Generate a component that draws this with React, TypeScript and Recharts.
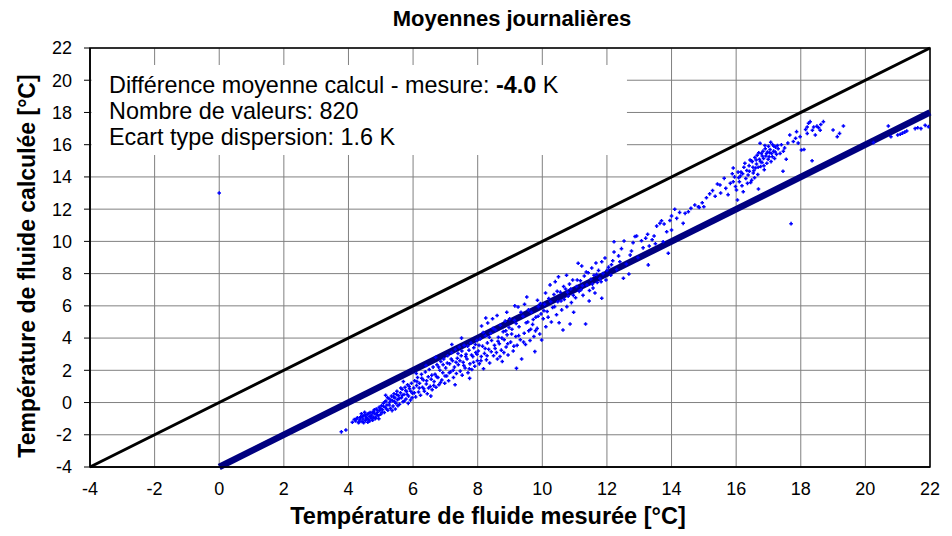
import { ScatterChart, Scatter, XAxis, YAxis, CartesianGrid, ReferenceLine, ReferenceArea } from 'recharts'

// tick values
const xTicks = [-4, -2, 0, 2, 4, 6, 8, 10, 12, 14, 16, 18, 20, 22]
const yTicks = [-4, -2, 0, 2, 4, 6, 8, 10, 12, 14, 16, 18, 20, 22]
const yMinorTicks = Array.from({ length: 66 }, (_, i) => Math.round((-4 + i * 0.4) * 10) / 10)

const band1: [number, number][] = [
  [3.78, -1.82], [3.92, -1.7], [4.12, -1.22], [4.18, -1.05], [4.22, -1.15], [4.28, -0.95], [4.31, -1.25],
  [4.35, -1.08], [4.38, -0.88], [4.42, -1.18], [4.45, -1.02], [4.48, -0.8], [4.52, -1.12], [4.55, -0.95],
  [4.58, -0.72], [4.61, -1.05], [4.64, -0.86], [4.67, -0.62], [4.7, -0.98], [4.72, -0.78], [4.75, -1.1],
  [4.78, -0.55], [4.81, -0.7], [4.84, -0.92], [4.86, -0.4], [4.89, -0.62], [4.92, -0.82], [4.95, -0.3],
  [4.97, -0.5], [5.0, -0.72], [4.4, -0.7], [4.6, -1.22], [4.83, -1.0], [4.5, -0.6],
  [5.02, -0.2], [5.05, -0.45], [5.08, -0.05], [5.11, -0.62], [5.14, -0.3], [5.16, 0.1], [5.19, -0.15],
  [5.22, -0.48], [5.25, 0.25], [5.27, 0.0], [5.3, -0.35], [5.33, 0.4], [5.36, 0.12], [5.38, -0.22],
  [5.41, 0.55], [5.44, 0.28], [5.47, -0.05], [5.5, 0.7], [5.52, 0.18], [5.55, 0.42], [5.58, -0.1],
  [5.61, 0.6], [5.64, 0.3], [5.66, 0.82], [5.69, 0.05], [5.72, 0.5], [5.75, 0.95], [5.78, 0.22],
  [5.8, 0.68], [5.83, 1.1], [5.86, 0.4], [5.89, 0.85], [5.92, 0.15], [5.95, 1.2], [5.98, 0.58],
  [5.15, 0.45], [5.45, -0.4], [5.7, 1.3], [5.85, -0.05],
  [4.25, -1.0], [4.33, -1.2], [4.37, -0.95], [4.44, -0.85], [4.47, -1.25], [4.53, -0.78], [4.57, -1.0],
  [4.63, -0.68], [4.66, -1.15], [4.69, -0.85], [4.74, -0.6], [4.77, -0.92], [4.8, -0.45], [4.88, -0.75],
  [4.91, -0.5], [4.94, -1.0], [4.99, -0.35], [5.04, -0.6], [5.09, -0.25], [5.13, 0.05], [5.18, -0.4],
  [5.21, 0.3], [5.26, -0.15], [5.31, 0.15], [5.35, -0.5], [5.4, 0.35], [5.43, 0.05], [5.49, 0.5],
  [5.53, -0.2], [5.57, 0.25], [5.62, 0.9], [5.67, 0.45], [5.73, 0.1], [5.77, 0.75], [5.82, 0.5],
  [5.88, 1.0], [5.93, 0.7], [5.97, 0.3],
]

const band2: [number, number][] = [
  [6.02, 0.9], [6.05, 1.35], [6.08, 0.35], [6.11, 1.05], [6.14, 1.55], [6.17, 0.65], [6.2, 1.2],
  [6.23, 0.45], [6.26, 1.75], [6.29, 0.95], [6.32, 1.4], [6.35, 0.7], [6.38, 1.9], [6.41, 1.15],
  [6.44, 0.55], [6.47, 1.6], [6.5, 2.05], [6.53, 1.0], [6.56, 1.45], [6.59, 0.8], [6.62, 2.2],
  [6.65, 1.3], [6.68, 1.75], [6.71, 0.95], [6.74, 2.35], [6.77, 1.55], [6.8, 1.1], [6.83, 2.0],
  [6.86, 2.55], [6.89, 1.4], [6.92, 1.85], [6.95, 2.7], [6.98, 1.2], [6.1, 1.8], [6.4, 2.3],
  [6.7, 2.8], [6.55, 0.4],
  [7.01, 2.15], [7.04, 1.65], [7.07, 2.9], [7.1, 1.35], [7.13, 2.4], [7.16, 1.9], [7.19, 3.1],
  [7.22, 2.6], [7.25, 1.55], [7.28, 2.2], [7.31, 3.3], [7.34, 1.8], [7.37, 2.75], [7.4, 2.35],
  [7.43, 3.45], [7.46, 1.95], [7.49, 2.9], [7.52, 1.7], [7.55, 2.5], [7.58, 3.55], [7.61, 2.15],
  [7.64, 3.0], [7.67, 2.7], [7.7, 1.85], [7.73, 3.25], [7.76, 2.4], [7.79, 3.7], [7.82, 2.05],
  [7.85, 2.85], [7.88, 3.4], [7.91, 2.25], [7.94, 3.1], [7.97, 3.85], [7.99, 2.6], [7.2, 3.6],
  [7.5, 4.0], [7.3, 1.1], [7.75, 1.5],
  [6.04, 0.6], [6.12, 1.3], [6.19, 0.9], [6.27, 1.5], [6.33, 0.85], [6.42, 1.35], [6.48, 0.9],
  [6.58, 1.7], [6.64, 1.05], [6.73, 1.6], [6.79, 2.2], [6.85, 1.25], [6.93, 2.35], [6.99, 1.65],
  [7.06, 2.45], [7.12, 1.85], [7.18, 2.7], [7.24, 2.0], [7.33, 2.5], [7.39, 3.05], [7.45, 2.6],
  [7.51, 3.2], [7.57, 2.3], [7.63, 2.85], [7.69, 3.5], [7.74, 2.1], [7.81, 2.95], [7.87, 2.5],
  [7.93, 3.6], [7.98, 3.0],
]

const band3: [number, number][] = [
  [8.02, 3.2], [8.05, 2.4], [8.08, 3.95], [8.11, 2.85], [8.12, 4.75], [8.15, 3.5], [8.18, 2.1],
  [8.21, 3.05], [8.24, 4.15], [8.27, 2.65], [8.3, 3.7], [8.31, 4.94], [8.34, 3.3], [8.37, 2.45],
  [8.4, 4.3], [8.43, 3.85], [8.46, 5.2], [8.49, 2.9], [8.52, 3.55], [8.55, 4.5], [8.58, 3.1],
  [8.61, 2.7], [8.64, 4.05], [8.67, 3.65], [8.7, 4.8], [8.73, 3.25], [8.76, 2.55], [8.79, 4.4],
  [8.82, 3.9], [8.85, 5.05], [8.88, 3.45], [8.91, 4.2], [8.94, 2.95], [8.97, 4.65], [8.25, 5.25],
  [8.6, 5.4], [8.9, 5.6],
  [9.02, 3.75], [9.06, 4.55], [9.1, 3.2], [9.14, 5.1], [9.18, 4.1], [9.2, 2.12], [9.22, 3.55],
  [9.25, 5.93], [9.28, 4.7], [9.32, 3.9], [9.36, 2.7], [9.4, 5.35], [9.44, 4.3], [9.48, 3.6],
  [9.52, 6.55], [9.55, 5.0], [9.58, 4.45], [9.62, 3.85], [9.66, 5.6], [9.7, 4.85], [9.74, 4.1],
  [9.77, 3.16], [9.8, 5.3], [9.84, 4.6], [9.88, 5.95], [9.92, 4.25], [9.96, 5.5], [9.98, 3.88],
  [9.15, 6.0], [9.45, 6.1], [9.85, 6.35],
  [8.04, 3.55], [8.1, 2.6], [8.17, 4.35], [8.23, 3.35], [8.29, 2.9], [8.36, 4.05], [8.42, 3.15],
  [8.48, 4.6], [8.54, 3.35], [8.63, 3.8], [8.69, 2.85], [8.75, 4.0], [8.81, 3.1], [8.87, 4.45],
  [8.93, 3.65], [8.99, 5.2], [9.05, 4.25], [9.12, 3.5], [9.19, 4.9], [9.27, 4.15], [9.34, 5.6],
  [9.42, 3.75], [9.5, 4.95], [9.57, 5.75], [9.64, 4.55], [9.72, 5.15], [9.79, 4.45], [9.87, 5.35],
  [9.94, 6.15],
]

const band4: [number, number][] = [
  [10.03, 5.2], [10.07, 6.1], [10.11, 4.7], [10.15, 5.65], [10.2, 6.45], [10.24, 7.3], [10.28, 5.0],
  [10.32, 5.9], [10.36, 6.7], [10.4, 7.5], [10.44, 5.45], [10.48, 6.25], [10.52, 4.95], [10.56, 6.85],
  [10.6, 5.75], [10.64, 4.5], [10.68, 6.4], [10.72, 7.05], [10.76, 5.95], [10.8, 6.6], [10.84, 7.35],
  [10.86, 4.87], [10.9, 6.2], [10.94, 7.6], [10.97, 5.6], [10.1, 6.8], [10.5, 7.8], [10.75, 7.9],
  [10.05, 5.7], [10.18, 5.3], [10.26, 6.25], [10.38, 5.95], [10.46, 6.9], [10.58, 6.3], [10.66, 7.2],
  [10.78, 6.85], [10.88, 7.05], [10.96, 6.65],
  [11.03, 6.5], [11.06, 7.2], [11.11, 8.64], [11.14, 6.9], [11.18, 7.55], [11.22, 8.47], [11.26, 6.65],
  [11.3, 7.85], [11.34, 4.87], [11.38, 7.3], [11.42, 8.05], [11.46, 6.95], [11.5, 7.65], [11.53, 8.35],
  [11.57, 7.1], [11.6, 7.9], [11.63, 6.8], [11.66, 8.66], [11.7, 7.45], [11.74, 8.2], [11.78, 7.7],
  [11.84, 8.74], [11.84, 6.47], [11.88, 8.0], [11.94, 8.97], [11.97, 7.6], [11.2, 7.0], [11.45, 6.3],
  [11.08, 7.6], [11.24, 7.25], [11.36, 8.1], [11.55, 7.35], [11.68, 7.95], [11.82, 7.5],
  [12.0, 8.2], [12.14, 8.55],
  [12.05, 8.4], [12.12, 7.9], [12.18, 8.8], [12.22, 9.98], [12.22, 9.34], [12.3, 8.25], [12.36, 9.1],
  [12.4, 8.74], [12.45, 9.55], [12.51, 7.71], [12.53, 10.02], [12.6, 8.6], [12.68, 7.98], [12.72, 9.15],
  [12.76, 9.4], [12.81, 9.92], [12.87, 10.3], [12.92, 10.33], [12.96, 9.0],
  [13.07, 10.04], [13.12, 9.6], [13.2, 10.2], [13.26, 10.44], [13.28, 8.54], [13.31, 9.71], [13.4, 10.1],
  [13.46, 10.33], [13.5, 9.85], [13.54, 10.95], [13.64, 11.12], [13.69, 11.28], [13.74, 9.98],
  [13.77, 11.08], [13.85, 10.6], [13.9, 9.26], [13.95, 11.3],
  [14.0, 10.7], [14.0, 11.58], [14.1, 11.99], [14.16, 11.43], [14.25, 11.8], [14.36, 11.12], [14.42, 11.74],
  [14.52, 11.84], [14.6, 12.05], [14.72, 12.26], [14.83, 12.15], [14.86, 12.11], [14.95, 12.4], [15.0, 12.15],
]

const band5: [number, number][] = [
  [15.08, 12.71], [15.18, 12.95], [15.27, 13.15], [15.35, 12.8], [15.42, 13.56], [15.5, 13.5], [15.52, 13.0],
  [15.63, 13.91], [15.68, 13.29], [15.75, 12.9], [15.82, 13.6], [15.88, 14.2], [15.91, 14.55], [15.91, 13.7],
  [15.95, 14.0], [15.98, 13.4],
  [16.01, 13.19], [16.04, 12.57], [16.06, 14.3], [16.1, 13.7], [16.13, 14.05], [16.15, 14.3], [16.18, 13.45],
  [16.22, 13.08], [16.24, 14.6], [16.27, 14.85], [16.3, 13.9], [16.33, 14.4], [16.37, 14.12], [16.4, 14.7],
  [16.43, 15.05], [16.45, 13.65], [16.48, 13.8], [16.5, 14.95], [16.53, 14.25], [16.55, 14.4], [16.58, 15.2],
  [16.6, 14.55], [16.63, 14.8], [16.65, 15.35], [16.67, 14.15], [16.69, 13.25], [16.72, 15.1], [16.74, 16.09],
  [16.76, 14.65], [16.78, 15.45], [16.8, 14.9], [16.83, 15.6], [16.85, 15.15], [16.87, 14.45], [16.9, 15.75],
  [16.92, 15.3], [16.95, 14.85], [16.97, 15.55], [17.0, 15.9], [17.02, 15.25], [17.05, 15.7], [17.08, 14.95],
  [17.1, 15.45], [17.13, 16.0], [17.16, 15.6], [17.19, 15.15], [17.22, 15.85], [17.25, 15.4], [17.28, 15.95],
  [16.08, 13.95], [16.2, 14.2], [16.35, 13.6], [16.41, 14.35], [16.47, 15.0], [16.52, 14.6], [16.57, 13.95],
  [16.62, 15.05], [16.68, 14.6], [16.7, 15.5], [16.75, 14.95], [16.81, 15.3], [16.86, 14.7], [16.89, 15.95],
  [16.94, 15.45], [16.99, 15.1], [17.04, 15.5], [17.07, 16.15], [17.12, 15.25], [17.17, 15.9], [17.21, 15.55],
  [17.3, 15.75], [17.4, 16.0], [17.5, 15.8],
  [17.36, 15.46], [17.45, 14.35], [17.46, 15.6], [17.55, 15.1], [17.6, 16.1], [17.66, 16.6], [17.77, 16.2],
  [17.84, 16.4], [17.87, 16.81], [17.92, 16.1], [17.98, 16.5], [18.02, 15.67], [18.1, 15.7], [18.15, 16.95],
  [18.2, 16.7], [18.2, 17.1], [18.24, 17.33], [18.29, 17.43], [18.35, 15.0], [18.36, 16.9], [18.4, 17.1],
  [18.45, 16.6], [18.5, 17.15], [18.55, 17.05], [18.6, 16.9], [18.62, 17.25], [18.7, 17.43],
]

const band6: [number, number][] = [
  [19.0, 16.91], [19.13, 16.5], [19.2, 16.7], [19.32, 17.16], [20.25, 16.13], [20.71, 17.16], [20.79, 16.5],
  [21.0, 16.6], [21.08, 16.65], [21.15, 16.72], [21.22, 16.78], [21.28, 16.85], [21.54, 17.0], [21.62, 17.05],
  [21.72, 17.0], [21.85, 17.2], [21.95, 17.12],
]

const outliers: [number, number][] = [[0.0, 13.0], [17.7, 11.1]]

const points = [...band1, ...band2, ...band3, ...band4, ...band5, ...band6, ...outliers].map(([x, y]) => ({ x, y }))

const font = "Arial, 'Liberation Sans', sans-serif"

const Cross = (props: any) => {
  const { cx, cy } = props
  if (cx == null || cy == null) return null
  return <path d={`M${cx - 1.8},${cy}h3.6M${cx},${cy - 1.8}v3.6`} stroke="#0000ff" strokeWidth={1.5} />
}

export default function App() {
  return (
    <div style={{ position: 'absolute', left: 0, top: 0, width: 952, height: 536, background: '#fff', fontFamily: font }}>
      <ScatterChart width={952} height={536} margin={{ top: 48, right: 22, bottom: 0, left: 0 }}>
        <CartesianGrid stroke="#808080" strokeWidth={1} horizontalValues={yTicks} verticalValues={xTicks} />
        <XAxis
          type="number"
          dataKey="x"
          domain={[-4, 22]}
          ticks={xTicks}
          allowDataOverflow
          height={69}
          tickLine={false}
          tickSize={6}
          tickMargin={9}
          axisLine={{ stroke: '#000', strokeWidth: 1.5 }}
          tick={{ fill: '#000', fontSize: 18, fontFamily: font }}
        />
        <YAxis
          type="number"
          dataKey="y"
          domain={[-4, 22]}
          ticks={yTicks}
          allowDataOverflow
          width={90}
          tickSize={6}
          tickMargin={12}
          tickLine={{ stroke: '#000' }}
          axisLine={{ stroke: '#000', strokeWidth: 1.5 }}
          tick={{ fill: '#000', fontSize: 18, fontFamily: font }}
        />
        <YAxis
          yAxisId="minor"
          type="number"
          domain={[-4, 22]}
          ticks={yMinorTicks}
          interval={0}
          mirror
          width={0}
          tickSize={5}
          tick={false}
          axisLine={false}
          tickLine={{ stroke: '#000' }}
        />
        <ReferenceArea x1={-3.95} x2={12.62} y1={15.36} y2={20.95} fill="#fff" fillOpacity={1} stroke="none" />
        <ReferenceArea x1={-4} x2={22} y1={-4} y2={22} fill="none" stroke="#000" strokeWidth={1.5} />
        <ReferenceLine segment={[{ x: -4, y: -4 }, { x: 22, y: 22 }]} stroke="#000" strokeWidth={3} />
        <ReferenceLine segment={[{ x: 0, y: -4 }, { x: 22, y: 18 }]} stroke="#000080" strokeWidth={6.5} />
        <Scatter data={points} shape={<Cross />} isAnimationActive={false} />
      </ScatterChart>

      <div style={{ position: 'absolute', left: 0, width: 1024, top: 6, textAlign: 'center', fontSize: 22, fontWeight: 'bold' }}>
        Moyennes journalières
      </div>
      <div style={{ position: 'absolute', left: 109, top: 72, fontSize: 23.4, lineHeight: '26px', color: '#000' }}>
        <div>
          Différence moyenne calcul - mesure: <b>-4.0</b> K
        </div>
        <div>Nombre de valeurs: 820</div>
        <div>Ecart type dispersion: 1.6 K</div>
      </div>
      <div style={{ position: 'absolute', left: 0, width: 976, top: 503, textAlign: 'center', fontSize: 23.5, fontWeight: 'bold' }}>
        Température de fluide mesurée [°C]
      </div>
      <div
        style={{
          position: 'absolute',
          left: 27,
          top: 266,
          transform: 'translate(-50%, -50%) rotate(-90deg)',
          whiteSpace: 'nowrap',
          fontSize: 23,
          fontWeight: 'bold',
        }}
      >
        Température de fluide calculée [°C]
      </div>
    </div>
  )
}
